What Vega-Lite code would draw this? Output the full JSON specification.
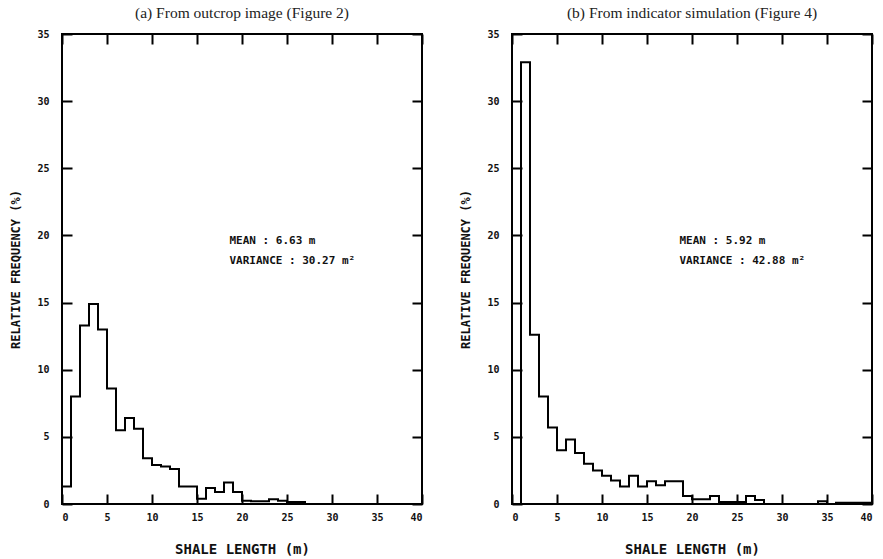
{
  "$schema": "https://vega.github.io/schema/vega-lite/v6.json",
  "background": "white",
  "padding": {"left": 8, "top": 4, "right": 2, "bottom": 2},
  "spacing": 31,
  "datasets": {
    "a": [
      {"x": 0, "freq": 1.3}, {"x": 1, "freq": 8.0}, {"x": 2, "freq": 13.3}, {"x": 3, "freq": 14.9},
      {"x": 4, "freq": 13.0}, {"x": 5, "freq": 8.6}, {"x": 6, "freq": 5.5}, {"x": 7, "freq": 6.4},
      {"x": 8, "freq": 5.6}, {"x": 9, "freq": 3.4}, {"x": 10, "freq": 2.9}, {"x": 11, "freq": 2.8},
      {"x": 12, "freq": 2.6}, {"x": 13, "freq": 1.3}, {"x": 14, "freq": 1.3}, {"x": 15, "freq": 0.4},
      {"x": 16, "freq": 1.2}, {"x": 17, "freq": 0.9}, {"x": 18, "freq": 1.6}, {"x": 19, "freq": 0.9},
      {"x": 20, "freq": 0.25}, {"x": 21, "freq": 0.2}, {"x": 22, "freq": 0.2}, {"x": 23, "freq": 0.35},
      {"x": 24, "freq": 0.25}, {"x": 25, "freq": 0.15}, {"x": 26, "freq": 0.15}, {"x": 27, "freq": 0},
      {"x": 28, "freq": 0}, {"x": 29, "freq": 0}, {"x": 30, "freq": 0}, {"x": 31, "freq": 0},
      {"x": 32, "freq": 0}, {"x": 33, "freq": 0}, {"x": 34, "freq": 0}, {"x": 35, "freq": 0},
      {"x": 36, "freq": 0}, {"x": 37, "freq": 0}, {"x": 38, "freq": 0}, {"x": 39, "freq": 0},
      {"x": 40, "freq": 0}
    ],
    "b": [
      {"x": 0, "freq": 0}, {"x": 1, "freq": 32.9}, {"x": 2, "freq": 12.6}, {"x": 3, "freq": 8.0},
      {"x": 4, "freq": 5.7}, {"x": 5, "freq": 4.0}, {"x": 6, "freq": 4.8}, {"x": 7, "freq": 3.8},
      {"x": 8, "freq": 3.0}, {"x": 9, "freq": 2.5}, {"x": 10, "freq": 2.1}, {"x": 11, "freq": 1.75},
      {"x": 12, "freq": 1.3}, {"x": 13, "freq": 2.1}, {"x": 14, "freq": 1.3}, {"x": 15, "freq": 1.7},
      {"x": 16, "freq": 1.4}, {"x": 17, "freq": 1.7}, {"x": 18, "freq": 1.7}, {"x": 19, "freq": 0.6},
      {"x": 20, "freq": 0.35}, {"x": 21, "freq": 0.35}, {"x": 22, "freq": 0.6}, {"x": 23, "freq": 0.15},
      {"x": 24, "freq": 0.15}, {"x": 25, "freq": 0.15}, {"x": 26, "freq": 0.6}, {"x": 27, "freq": 0.3},
      {"x": 28, "freq": 0}, {"x": 29, "freq": 0}, {"x": 30, "freq": 0}, {"x": 31, "freq": 0},
      {"x": 32, "freq": 0}, {"x": 33, "freq": 0}, {"x": 34, "freq": 0.2}, {"x": 35, "freq": 0},
      {"x": 36, "freq": 0.1}, {"x": 37, "freq": 0.1}, {"x": 38, "freq": 0.1}, {"x": 39, "freq": 0.1},
      {"x": 40, "freq": 0}
    ],
    "statsA": [
      {"x": 18.6, "y": 19.6, "label": "MEAN : 6.63 m"},
      {"x": 18.6, "y": 18.1, "label": "VARIANCE : 30.27 m²"}
    ],
    "statsB": [
      {"x": 18.6, "y": 19.6, "label": "MEAN : 5.92 m"},
      {"x": 18.6, "y": 18.1, "label": "VARIANCE : 42.88 m²"}
    ]
  },
  "hconcat": [
    {
      "width": 360,
      "height": 470,
      "title": {"text": "(a) From outcrop image (Figure 2)"},
      "layer": [
        {
          "data": {"name": "a"},
          "mark": {"type": "line", "interpolate": "step-after", "color": "black", "strokeWidth": 2},
          "encoding": {
            "x": {"field": "x", "type": "quantitative", "scale": {"domain": [0, 40], "nice": false},
                  "axis": {"values": [0,5,10,15,20,25,30,35,40], "title": "SHALE LENGTH (m)", "labelPadding": 8, "titlePadding": 20, "titleFontSize": 14, "gridDash": [10, 450]}},
            "y": {"field": "freq", "type": "quantitative", "scale": {"domain": [0, 35], "nice": false},
                  "axis": {"values": [0,5,10,15,20,25,30,35], "title": "RELATIVE FREQUENCY (%)", "labelPadding": 13, "titlePadding": 14, "gridDash": [10, 340]}}
          }
        },
        {
          "data": {"name": "statsA"},
          "mark": {"type": "text", "align": "left", "baseline": "middle", "font": "DejaVu Sans Mono", "fontWeight": "bold", "fontSize": 11, "color": "#111"},
          "encoding": {
            "x": {"field": "x", "type": "quantitative"},
            "y": {"field": "y", "type": "quantitative"},
            "text": {"field": "label"}
          }
        }
      ]
    },
    {
      "width": 360,
      "height": 470,
      "title": {"text": "(b) From indicator simulation (Figure 4)"},
      "layer": [
        {
          "data": {"name": "b"},
          "mark": {"type": "line", "interpolate": "step-after", "color": "black", "strokeWidth": 2},
          "encoding": {
            "x": {"field": "x", "type": "quantitative", "scale": {"domain": [0, 40], "nice": false},
                  "axis": {"values": [0,5,10,15,20,25,30,35,40], "title": "SHALE LENGTH (m)", "labelPadding": 8, "titlePadding": 20, "titleFontSize": 14, "gridDash": [10, 450]}},
            "y": {"field": "freq", "type": "quantitative", "scale": {"domain": [0, 35], "nice": false},
                  "axis": {"values": [0,5,10,15,20,25,30,35], "title": "RELATIVE FREQUENCY (%)", "labelPadding": 13, "titlePadding": 14, "gridDash": [10, 340]}}
          }
        },
        {
          "data": {"name": "statsB"},
          "mark": {"type": "text", "align": "left", "baseline": "middle", "font": "DejaVu Sans Mono", "fontWeight": "bold", "fontSize": 11, "color": "#111"},
          "encoding": {
            "x": {"field": "x", "type": "quantitative"},
            "y": {"field": "y", "type": "quantitative"},
            "text": {"field": "label"}
          }
        }
      ]
    }
  ],
  "config": {
    "view": {"stroke": "black", "strokeWidth": 2},
    "title": {"font": "Liberation Serif", "fontSize": 15.5, "fontWeight": "normal", "color": "#222", "offset": 8, "anchor": "middle"},
    "axis": {
      "domain": false,
      "grid": true,
      "gridColor": "black",
      "gridWidth": 2,
      "gridOpacity": 1,
      "ticks": false,
      "labelFont": "DejaVu Sans Mono",
      "labelFontWeight": "bold",
      "labelFontSize": 10,
      "labelColor": "#111",
      "titleFont": "DejaVu Sans Mono",
      "titleFontWeight": "bold",
      "titleFontSize": 12,
      "titleColor": "#111"
    }
  }
}
